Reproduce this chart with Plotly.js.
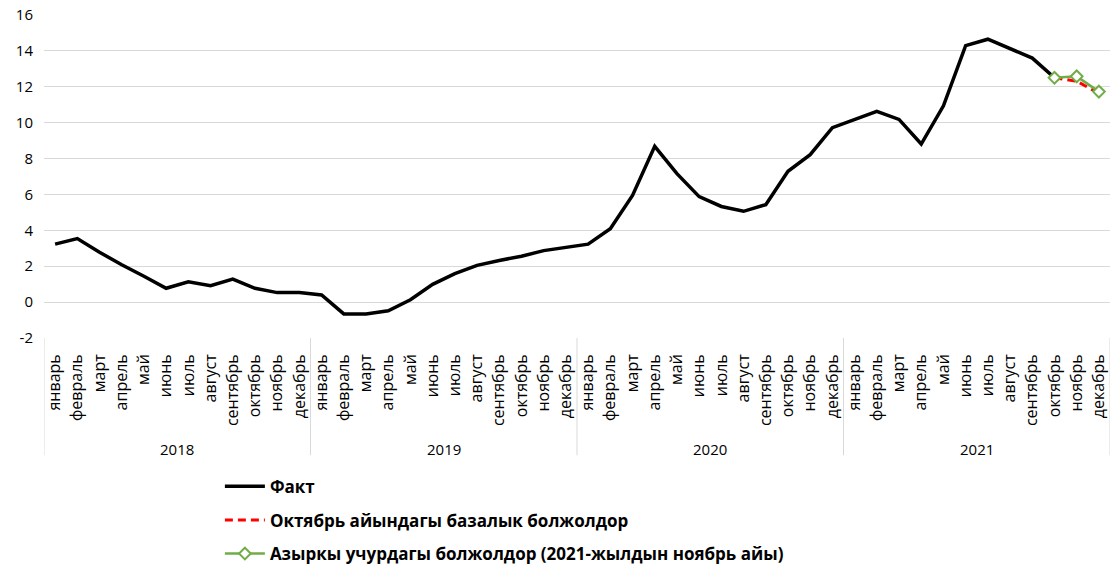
<!DOCTYPE html>
<html><head><meta charset="utf-8">
<script src="https://cdn.plot.ly/plotly-3.0.1.min.js"></script>
<style>html,body{margin:0;padding:0;background:#fff}#chart{width:1110px;height:572px}</style>
</head><body><div id="chart"></div>
<script>
const years = ["2018", "2019", "2020", "2021"];
const months = ["январь","февраль","март","апрель","май","июнь","июль","август","сентябрь","октябрь","ноябрь","декабрь"];
// Факт: January 2018 – October 2021
const fact = [3.23, 3.54, 2.78, 2.08, 1.44, 0.77, 1.13, 0.91, 1.28, 0.77, 0.53, 0.53,
              0.40, -0.66, -0.66, -0.48, 0.13, 0.99, 1.59, 2.05, 2.32, 2.56, 2.87, 3.05,
              3.23, 4.09, 5.94, 8.68, 7.16, 5.88, 5.33, 5.06, 5.43, 7.29, 8.22, 9.72,
              10.18, 10.63, 10.18, 8.81, 10.94, 14.29, 14.65, 14.10, 13.60, 12.50];
// October – December 2021 forecasts
const baseForecast = [12.50, 12.31, 11.64];
const currentForecast = [12.50, 12.58, 11.73];
const names = ["Факт", "Октябрь айындагы базалык болжолдор", "Азыркы учурдагы болжолдор (2021-жылдын ноябрь айы)"];
const yTicks = [-2, 0, 2, 4, 6, 8, 10, 12, 14, 16];
const yTickText = ["-2", "0", "2", "4", "6", "8", "10", "12", "14", "16"];

const nCat = years.length * months.length;
const idx = Array.from({length: nCat}, (_, i) => i);
const tickText = idx.map(i => months[i % 12]);
const factX = fact.map((_, i) => i);
const fcStart = fact.length - 1;
const fcX = baseForecast.map((_, i) => fcStart + i);

const traces = [
  {x: factX, y: fact, name: names[0], type: 'scatter', mode: 'lines',
   line: {color: '#000000', width: 3.5}, legendgroup: 'a', hoverinfo: 'skip'},
  {x: fcX, y: baseForecast, name: names[1], type: 'scatter', mode: 'lines',
   line: {color: '#FF0000', width: 3, dash: '8px,5px'}, legendgroup: 'b', hoverinfo: 'skip'},
  {x: fcX, y: currentForecast, name: names[2], type: 'scatter', mode: 'lines+markers',
   line: {color: '#70AD47', width: 2.5},
   marker: {symbol: 'diamond', size: 9, color: '#ffffff', line: {color: '#70AD47', width: 2}},
   legendgroup: 'c', hoverinfo: 'skip', cliponaxis: false}
];

const shapes = [];
for (let k = 0; k <= years.length; k++) {
  shapes.push({type: 'line', xref: 'x', yref: 'paper', x0: 12*k - 0.5, x1: 12*k - 0.5,
    y0: 0, y1: -0.363, line: {color: '#d9d9d9', width: 1}});
}
const annotations = years.map((yr, k) => ({
  x: 12*k + 5.5, y: -0.345, xref: 'x', yref: 'paper', text: yr, showarrow: false,
  xanchor: 'center', yanchor: 'middle', font: {family: 'Open Sans', size: 15, color: '#000'}
}));

const layout = {
  width: 1110, height: 572,
  margin: {l: 44, r: 0, t: 15, b: 229},
  paper_bgcolor: '#fff', plot_bgcolor: '#fff',
  font: {family: 'Open Sans', size: 15, color: '#000'},
  showlegend: true,
  legend: {orientation: 'v', x: 0.165, xanchor: 'left', y: -0.405, yanchor: 'top',
    font: {family: 'Open Sans', size: 17, weight: 700, color: '#000'},
    itemwidth: 40, tracegroupgap: 8.5, bgcolor: 'rgba(0,0,0,0)'},
  xaxis: {type: 'linear', range: [-0.5, 47.5], tickmode: 'array', tickvals: idx, ticktext: tickText,
    tickangle: -90, showgrid: false, zeroline: false, showline: false, ticks: '',
    ticklabelstandoff: 12, ticklabeloverflow: 'allow',
    tickfont: {family: 'Open Sans', size: 16, color: '#000'}, fixedrange: true},
  yaxis: {range: [-2, 16], tickmode: 'array', tickvals: yTicks, ticktext: yTickText,
    showgrid: true, gridcolor: '#d9d9d9', gridwidth: 1,
    zeroline: false, showline: false, ticks: '', ticklabelstandoff: 10,
    tickfont: {family: 'Open Sans', size: 15, color: '#000'}, fixedrange: true},
  shapes: shapes, annotations: annotations
};
Plotly.newPlot('chart', traces, layout, {staticPlot: true, displayModeBar: false});
</script></body></html>
